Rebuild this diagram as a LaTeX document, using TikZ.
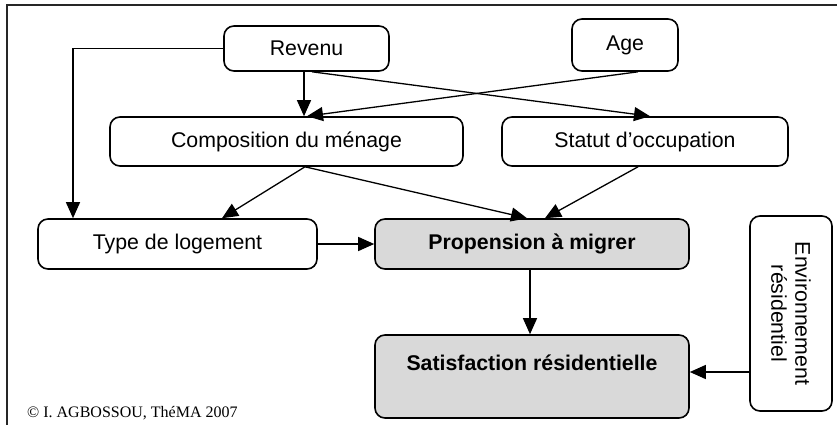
\documentclass[tikz,border=0pt]{standalone}
\usepackage{fontspec}
\setmainfont{Liberation Sans}
\newfontfamily\serifcredit{Liberation Serif}
\usetikzlibrary{arrows.meta,calc}

\tikzset{
  box/.style={draw, line width=1.6pt, rounded corners=10pt, fill=white,
    inner sep=0pt, align=center,
    font=\fontsize{21.3}{24}\selectfont},
  keybox/.style={box, fill=black!15, font=\fontsize{21.3}{24}\selectfont\bfseries},
  arr/.style={draw, line width=1.3pt, -{Triangle[length=16pt,width=14pt]}},
  frame/.style={draw, line width=1.6pt, black!85}
}

\begin{document}
\begin{tikzpicture}[x=1pt, y=-1pt]
  \useasboundingbox (0,0) rectangle (837,425);
  \begin{scope}
    \clip (0,0) rectangle (837,425);
    \draw[frame] (845,5) -- (7,5) -- (7,440);
  \end{scope}

  % factors
  \node[box, minimum width=165pt, minimum height=45pt] (rev) at (306.5,48.5) {Revenu};
  \node[box, minimum width=106pt, minimum height=52pt] (age) at (625,45) {Age};
  \node[box, minimum width=353pt, minimum height=49pt] (comp) at (286.5,141.5) {Composition du ménage};
  \node[box, minimum width=286pt, minimum height=49pt] (stat) at (645,141.5) {Statut d’occupation};
  \node[box, minimum width=279pt, minimum height=50pt] (typ) at (177.5,244) {Type de logement};
  \node[keybox, minimum width=314pt, minimum height=50pt] (prop) at (532,244) {Propension à migrer};
  \node[keybox, minimum width=314pt, minimum height=83pt] (sat) at (532,376.5) {};
  \node[font=\fontsize{21.3}{24}\selectfont\bfseries, inner sep=0pt] (satlbl) at (532,363) {Satisfaction résidentielle};
  \node[box, rotate=-90, minimum width=195pt, minimum height=82pt] (env) at (791,313.5)
    {Environnement\\résidentiel};

  % credit line
  \node[anchor=base west, inner sep=0pt, font=\serifcredit\fontsize{16}{18}\selectfont] (credit) at (27,417)
    {© I. AGBOSSOU, ThéMA 2007};

  % influences
  \draw[arr] (rev.west) -| ([xshift=-104.5pt]typ.north);
  \draw[arr] ([xshift=-2.5pt]rev.south) -- ([xshift=17.5pt]comp.north);
  \draw[arr] ([xshift=5.5pt]rev.south) -- ([xshift=5pt]stat.north);
  \draw[arr] ([xshift=13pt]age.south) -- ([xshift=20.5pt]comp.north);
  \draw[arr] ([xshift=18.5pt]comp.south) -- ([xshift=44.5pt]typ.north);
  \draw[arr] ([xshift=18.5pt]comp.south) -- ([xshift=-5pt]prop.north);
  \draw[arr] ([xshift=-7pt]stat.south) -- ([xshift=13pt]prop.north);
  \draw[arr] (typ.east) -- (prop.west);
  \draw[arr] ([xshift=-2pt]prop.south) -- ([xshift=-2pt]sat.north);
  \draw[arr] ($(env.center)+(-41,58.5)$) coordinate (envout) -- (envout -| sat.east);
\end{tikzpicture}
\end{document}
